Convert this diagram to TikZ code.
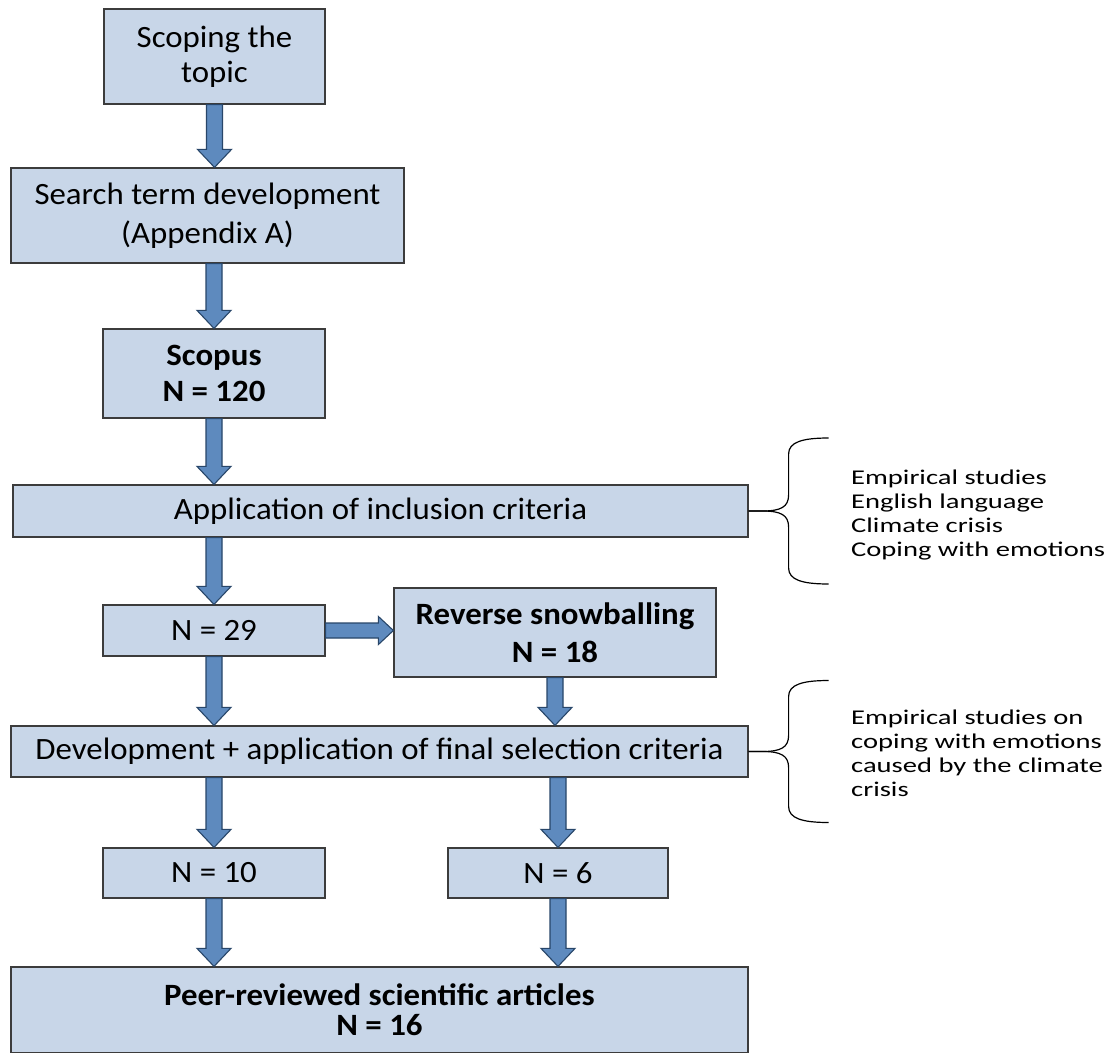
\documentclass[tikz,border=0pt]{standalone}
\usepackage{fontspec}
\setmainfont{Carlito}[FakeStretch=1.06]
\newfontfamily\sidefont{Carlito}[FakeStretch=1.36]
\usetikzlibrary{calc}

\definecolor{boxfill}{RGB}{200,214,232}
\definecolor{boxline}{RGB}{60,60,60}
\definecolor{arrowfill}{RGB}{94,138,190}
\definecolor{arrowline}{RGB}{40,70,105}

% vertical block arrow from #1 down to #2 (same x)
\newcommand\vblock[2]{%
  \draw[blk] let \p1=#1, \p2=#2 in
    (\x1-8pt,\y1) -- (\x1-8pt,\y2+18pt) -- (\x1-17pt,\y2+18pt) -- (\x1,\y2)
    -- (\x1+17pt,\y2+18pt) -- (\x1+8pt,\y2+18pt) -- (\x1+8pt,\y1) -- cycle;}
% horizontal block arrow from #1 right to #2 (same y)
\newcommand\hblock[2]{%
  \draw[blk] let \p1=#1, \p2=#2 in
    (\x1,\y1+7.5pt) -- (\x2-15pt,\y1+7.5pt) -- (\x2-15pt,\y1+14pt) -- (\x2,\y1)
    -- (\x2-15pt,\y1-14pt) -- (\x2-15pt,\y1-7.5pt) -- (\x1,\y1-7.5pt) -- cycle;}
% curly brace opening to the right, tip at #1, half height #2
\newcommand\sidebrace[2]{%
  \draw[brc] (#1) -- ++(14,0) .. controls +(18,0) and +(0,12) .. ++(26,-16)
    -- ++(0,{-(#2-32)}) .. controls +(0,-12) and +(-26,0) .. ++(40,-16);
  \draw[brc] (#1) -- ++(14,0) .. controls +(18,0) and +(0,-12) .. ++(26,16)
    -- ++(0,{#2-32}) .. controls +(0,12) and +(-26,0) .. ++(40,16);}

\begin{document}
\begin{tikzpicture}[x=1pt,y=-1pt,
  box/.style={draw=boxline,line width=1.2pt,fill=boxfill,inner sep=0pt,
    align=center,font=\fontsize{31}{37}\selectfont},
  blk/.style={draw=arrowline,line width=1.1pt,fill=arrowfill,line join=miter},
  brc/.style={draw=black,line width=1.2pt},
  side/.style={anchor=north west,inner sep=0pt,align=left,
    font=\sidefont\fontsize{21}{23.8}\selectfont}]
\clip (0,0) rectangle (1116,1052);
\fill[white] (0,0) rectangle (1116,1052);

% boxes of the flow
\node[box,minimum width=221,minimum height=95,font=\fontsize{31}{35}\selectfont]
  (b1) at (214.5,56.5) {Scoping the\\topic};
\node[box,minimum width=393,minimum height=95,font=\fontsize{31}{39}\selectfont]
  (b2) at (207.5,215.5) {Search term development\\(Appendix A)};
\node[box,minimum width=222,minimum height=89,font=\fontsize{31}{36}\selectfont]
  (scopus) at (214,373.5) {\textbf{Scopus}\\\textbf{N = 120}};
\node[box,minimum width=735,minimum height=52]
  (incl) at (380.5,511) {Application of inclusion criteria};
\node[box,minimum width=222,minimum height=51]
  (n29) at (214,630.5) {N = 29};
\node[box,minimum width=322,minimum height=89,font=\fontsize{31}{38}\selectfont]
  (rev) at (555,632.5) {\textbf{Reverse snowballing}\\\textbf{N = 18}};
\node[box,minimum width=737,minimum height=51]
  (dev) at (379.5,751.5) {Development + application of final selection criteria};
\node[box,minimum width=222,minimum height=50]
  (n10) at (214,873) {N = 10};
\node[box,minimum width=220,minimum height=50]
  (n6) at (558,873) {N = 6};
\node[box,minimum width=737,minimum height=86,font=\fontsize{31}{30}\selectfont]
  (bot) at (379.5,1010) {\textbf{Peer-reviewed scientific articles}\\\textbf{N = 16}};

% block arrows
\vblock{(b1.south)}{(b2.north -| b1.south)}
\vblock{(b2.south -| scopus.north)}{(scopus.north)}
\vblock{(scopus.south)}{(scopus.south |- incl.north)}
\vblock{(n29.north |- incl.south)}{(n29.north)}
\hblock{(n29.east)}{(rev.west |- n29.east)}
\vblock{(n29.south)}{(n29.south |- dev.north)}
\vblock{(rev.south)}{(rev.south |- dev.north)}
\vblock{(n10.north |- dev.south)}{(n10.north)}
\vblock{(n6.north |- dev.south)}{(n6.north)}
\vblock{(n10.south)}{(n10.south |- bot.north)}
\vblock{(n6.south)}{(n6.south |- bot.north)}

% criteria braces and lists
\sidebrace{incl.east}{73}
\sidebrace{dev.east}{71}
\node[side] (crit1) at (851,470)
  {Empirical studies\\English language\\Climate crisis\\Coping with emotions};
\node[side] (crit2) at (851,710)
  {Empirical studies on\\coping with emotions\\caused by the climate\\crisis};
\end{tikzpicture}
\end{document}
